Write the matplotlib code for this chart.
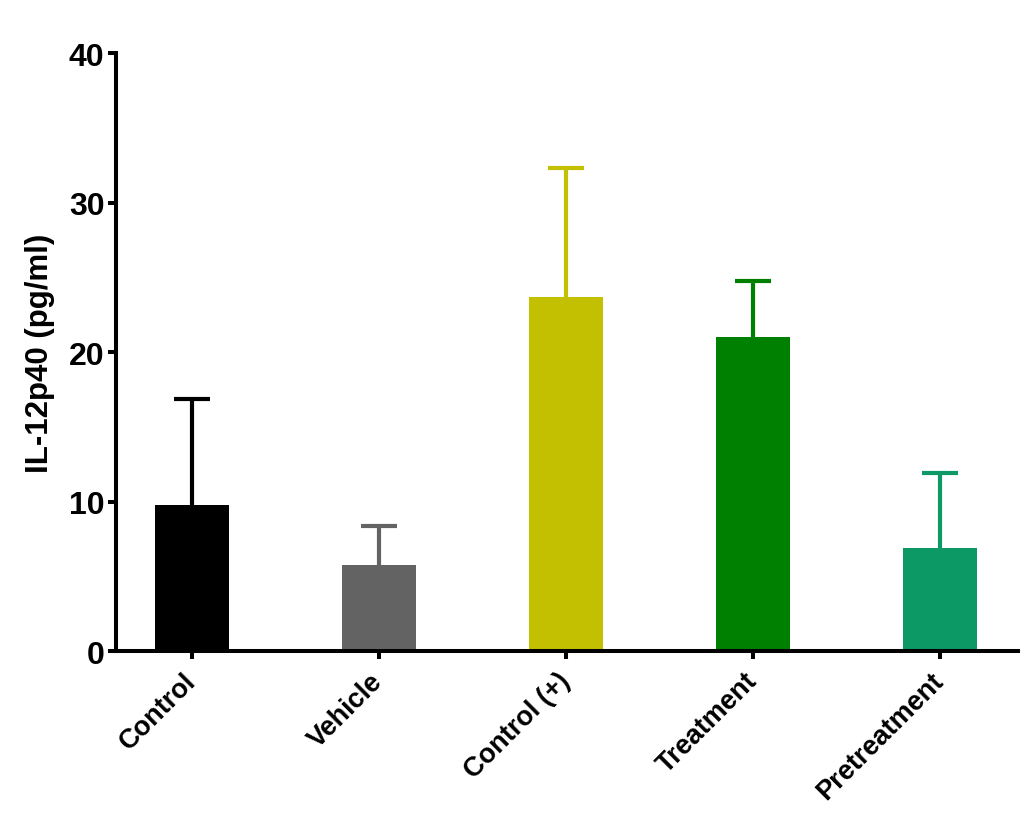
import matplotlib
matplotlib.use("Agg")
import matplotlib.pyplot as plt

categories = ["Control", "Vehicle", "Control (+)", "Treatment", "Pretreatment"]
means = [9.77, 5.75, 23.7, 21.0, 6.89]
errors = [7.09, 2.59, 8.59, 3.77, 5.02]
colors = ["#000000", "#636363", "#c2c000", "#008000", "#0c9966"]
yticks = [0, 10, 20, 30, 40]
ylabel = "IL-12p40 (pg/ml)"

plt.rcParams['font.family'] = ['Liberation Sans', 'DejaVu Sans']
plt.rcParams['font.weight'] = 'bold'

fig = plt.figure(figsize=(10.32, 8.29), dpi=100)
ax = fig.add_axes([0.1127, 0.2135, 0.8734, 0.7213])

x = list(range(len(categories)))
for i in x:
    ax.bar(i, means[i], width=0.396, color=colors[i], zorder=2)
    _, caps, _ = ax.errorbar(i, means[i], yerr=[[0], [errors[i]]], fmt='none',
                             ecolor=colors[i], elinewidth=3, capsize=13.3,
                             capthick=3, zorder=1)
    if len(caps) == 2:
        caps[0].set_visible(False)

ax.set_xlim(-0.405, 4.415)
ax.set_ylim(0, 40)
ax.set_yticks(yticks)
ax.set_xticks(x)
ax.set_xticklabels(categories, rotation=45, ha='right', va='center',
                   rotation_mode='anchor', fontsize=19.5, fontweight='bold')
for lbl in ax.get_yticklabels():
    lbl.set_fontsize(23)
    lbl.set_fontweight('bold')

for s in ['top', 'right']:
    ax.spines[s].set_visible(False)
for s in ['left', 'bottom']:
    ax.spines[s].set_linewidth(2.9)
    ax.spines[s].set_capstyle('projecting')

ax.tick_params(axis='both', width=2.9, length=5.5, direction='out')
ax.tick_params(axis='x', pad=13)
ax.tick_params(axis='y', pad=3)
ax.set_ylabel(ylabel, fontsize=22.5, fontweight='bold', labelpad=10)

fig.savefig("out.png", dpi=100)
